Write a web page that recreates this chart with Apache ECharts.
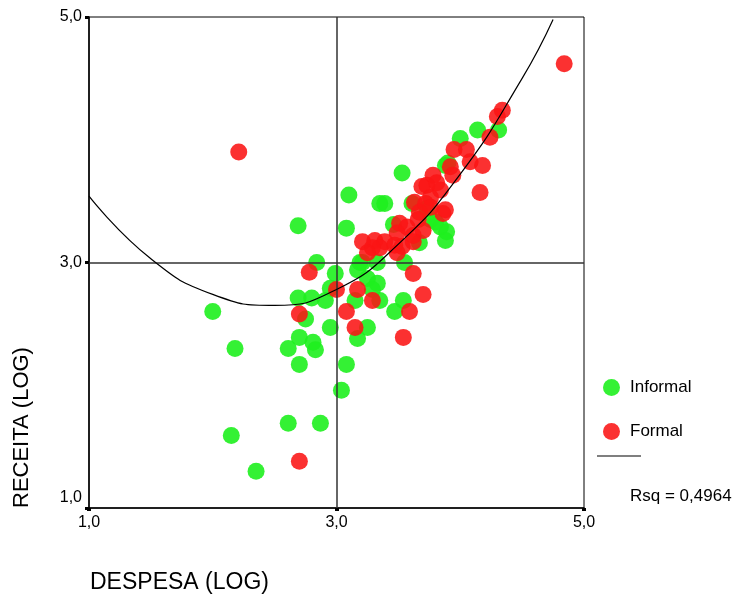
<!DOCTYPE html>
<html>
<head>
<meta charset="utf-8">
<script src="https://cdn.jsdelivr.net/npm/echarts@6/dist/echarts.min.js"></script>
<style>
html,body{margin:0;padding:0;background:#fff;}
#chart{width:749px;height:600px;}
</style>
</head>
<body>
<div id="chart"></div>
<script>
// Tick values
var xTicks = [1, 3, 5];
var yTicks = [1, 3, 5];

// Informal (green) points: [DESPESA (LOG), RECEITA (LOG)]
var informalX = [2.00,2.18,2.15,2.35,2.69,2.61,2.70,2.81,2.83,2.70,3.08,3.04,2.61,2.87,2.84,2.99,2.69,2.80,2.91,2.95,2.75,2.95,3.10,3.08,3.19,3.25,3.17,3.35,4.14,4.31,4.00,3.90,3.53,3.39,3.61,3.76,3.84,3.46,3.88,3.67,3.33,3.21,3.55,3.17,3.25,3.33,3.29,3.15,3.35,3.54,3.47,3.89,3.80,3.88,3.73];
var informalY = [2.60,2.30,1.59,1.30,3.30,2.30,2.39,2.35,2.29,2.17,2.17,1.96,1.69,1.69,3.00,2.91,2.71,2.71,2.69,2.79,2.54,2.47,3.55,3.28,3.00,2.47,2.38,3.48,4.08,4.08,4.01,3.81,3.73,3.48,3.48,3.35,3.29,3.31,3.18,3.16,3.00,3.00,3.00,2.94,2.87,2.83,2.78,2.69,2.69,2.69,2.60,3.25,3.33,3.79,3.44];

// Formal (red) points
var formalX = [2.21,4.84,4.34,4.30,4.24,3.95,4.05,4.08,4.18,3.92,3.94,3.78,3.73,3.69,3.84,4.16,3.76,3.63,3.67,3.86,3.70,3.57,3.51,3.49,3.62,3.21,3.31,3.39,3.47,3.53,3.62,3.49,3.35,3.29,3.25,3.62,3.00,3.17,3.29,3.70,3.59,3.08,3.15,3.54,2.78,2.70,2.70,3.66,3.88,3.76,3.72,3.81];
var formalY = [3.90,4.62,4.24,4.19,4.02,3.92,3.92,3.82,3.79,3.78,3.71,3.71,3.63,3.62,3.59,3.57,3.53,3.49,3.41,3.40,3.26,3.29,3.32,3.24,3.22,3.17,3.18,3.17,3.14,3.13,3.17,3.08,3.12,3.12,3.08,2.91,2.78,2.78,2.69,2.74,2.60,2.60,2.47,2.39,2.92,2.58,1.38,3.35,3.43,3.45,3.48,3.65];

// Fit curve
var fitX = [1.0,1.5,2.0,2.5,3.0,3.5,4.0,4.5,4.75];
var fitY = [3.54,3.03,2.74,2.65,2.78,3.15,3.72,4.50,4.98];

var rsqText = 'Rsq = 0,4964';

function zip(a, b) { return a.map(function (v, i) { return [v, b[i]]; }); }
function fmt(v) { return v.toFixed(1).replace('.', ','); }

var chart = echarts.init(document.getElementById('chart'), null, {renderer: 'canvas'});
var FONT = 'Liberation Sans, Arial, sans-serif';

chart.setOption({
  animation: false,
  backgroundColor: '#ffffff',
  grid: {left: 89, right: 165, top: 17, bottom: 92, show: true, borderColor: '#000', borderWidth: 1, backgroundColor: 'transparent'},
  xAxis: {
    type: 'value', min: xTicks[0], max: xTicks[xTicks.length - 1], interval: xTicks[1] - xTicks[0],
    axisLine: {show: true, onZero: false, lineStyle: {color: '#000', width: 1.5}},
    axisTick: {show: true, length: 3, lineStyle: {color: '#000', width: 4}},
    splitLine: {show: false},
    axisLabel: {formatter: fmt, color: '#000', fontFamily: FONT, fontSize: 16, margin: 7}
  },
  yAxis: {
    type: 'value', min: yTicks[0], max: yTicks[yTicks.length - 1], interval: yTicks[1] - yTicks[0],
    axisLine: {show: true, onZero: false, lineStyle: {color: '#000', width: 1.5}},
    axisTick: {show: true, length: 4, lineStyle: {color: '#000', width: 3}},
    splitLine: {show: false},
    axisLabel: {
      formatter: function (v) { return v === yTicks[0] ? '{low|' + fmt(v) + '}' : fmt(v); },
      rich: {low: {fontFamily: FONT, fontSize: 16, color: '#000', padding: [0, 0, 20, 0]}},
      color: '#000', fontFamily: FONT, fontSize: 16, margin: 7
    }
  },
  legend: {
    orient: 'vertical', left: 598, top: 374, itemWidth: 17, itemHeight: 17, itemGap: 27,
    icon: 'circle',
    data: ['Informal', 'Formal'],
    textStyle: {color: '#000', fontFamily: FONT, fontSize: 17, padding: [0, 0, 0, 5]}
  },
  series: [
    {
      name: 'ref', type: 'line', data: [], silent: true,
      markLine: {
        silent: true, symbol: 'none', label: {show: false},
        lineStyle: {color: '#333', width: 1.5, type: 'solid'},
        data: [{xAxis: 3}, {yAxis: 3}]
      }
    },
    {
      name: 'Informal', type: 'scatter', symbol: 'circle', symbolSize: 17,
      itemStyle: {color: '#1ef01e', opacity: 0.9},
      data: zip(informalX, informalY), z: 3
    },
    {
      name: 'Formal', type: 'scatter', symbol: 'circle', symbolSize: 17,
      itemStyle: {color: '#fa1414', opacity: 0.88},
      data: zip(formalX, formalY), z: 4
    },
    {
      name: 'fit', type: 'line', data: zip(fitX, fitY), smooth: 0.5, showSymbol: false, symbol: 'none',
      lineStyle: {color: '#000', width: 1.2}, z: 5, silent: true
    }
  ],
  graphic: [
    {type: 'line', shape: {x1: 597, y1: 456, x2: 641, y2: 456}, style: {stroke: '#000', lineWidth: 1.2}},
    {type: 'text', left: 630, top: 488, style: {text: rsqText, fill: '#000', font: '17px ' + FONT}},
    {type: 'text', left: 90, top: 571, style: {text: 'DESPESA (LOG)', fill: '#000', font: '23px ' + FONT}},
    {type: 'text', x: 22, y: 508, rotation: Math.PI / 2, style: {text: 'RECEITA (LOG)', fill: '#000', font: '22px ' + FONT, align: 'left', verticalAlign: 'middle'}}
  ]
});
</script>
</body>
</html>
